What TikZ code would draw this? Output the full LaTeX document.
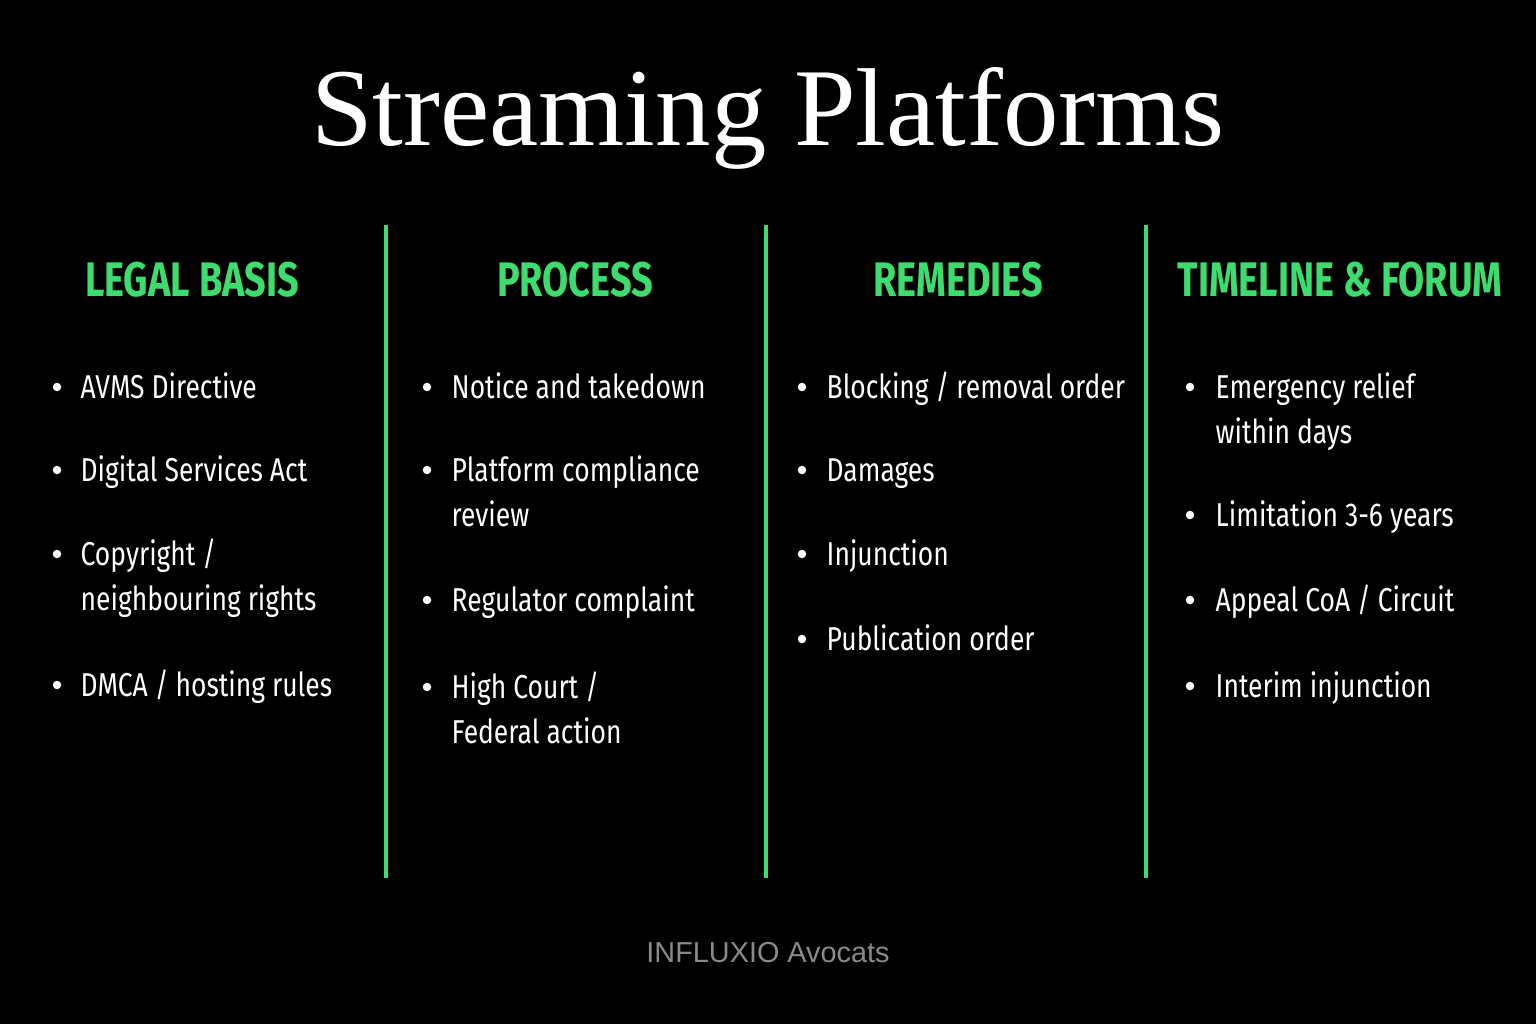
\documentclass[tikz,border=0pt]{standalone}
\usepackage{fontspec}
\setmainfont{Liberation Serif}
\newfontfamily\bodyfont{Fira Sans}[FakeStretch=0.80]
\newfontfamily\headfont{Fira Sans}[FakeStretch=0.78]
\newfontfamily\footfont{Liberation Sans}
\usetikzlibrary{positioning}
\definecolor{accent}{HTML}{3DDC6E}
\definecolor{footgray}{HTML}{8A8A8A}
\tikzset{%
  heading/.style = {text=accent, font=\headfont\bfseries\fontsize{13.8}{16}\selectfont},%
  item/.style    = {anchor=base west, text=white, inner sep=0pt,%
                    font=\bodyfont\fontsize{9.4}{12}\selectfont},%
  dot/.style     = {circle, fill=white, inner sep=0pt, minimum size=0.085cm},%
  divider/.style = {draw=accent, line width=0.9pt}%
}
\begin{document}
\begin{tikzpicture}[x=0.01cm,y=-0.01cm]
	\fill[black] (0,0) rectangle (1536,1024);
	\node (title) at (768,118) [text=white, font=\fontsize{31.5}{36}\selectfont] {Streaming Platforms};
	% column headings
	\node[heading] (legal)    at (192,280)  {LEGAL BASIS};
	\node[heading] (process)  at (575,280)  {PROCESS};
	\node[heading] (remedies) at (958,280)  {REMEDIES};
	\node[heading] (timeline) at (1340,280) {TIMELINE \& FORUM};
	% dividers
	\foreach \x/\n in {386/a,766/b,1146/c}{%
		\coordinate (top\n) at (\x,225);
		\coordinate (bot\n) at (\x,878);
		\draw[divider] (top\n) -- (bot\n);
	}
	% bullet items (second line optional)
	\foreach \dx/\tx/\y/\txt/\txtb/\n in {%
		57/80/387/{AVMS Directive}/{}/l1,
		57/80/470/{Digital Services Act}/{}/l2,
		57/80/554/{Copyright /}/{neighbouring rights}/l3,
		57/80/685/{DMCA / hosting rules}/{}/l4,
		427/451/387/{Notice and takedown}/{}/p1,
		427/451/470/{Platform compliance}/{review}/p2,
		427/451/600/{Regulator complaint}/{}/p3,
		427/451/687/{High Court /}/{Federal action}/p4,
		802/826/387/{Blocking / removal order}/{}/r1,
		802/826/470/{Damages}/{}/r2,
		802/826/554/{Injunction}/{}/r3,
		802/826/639/{Publication order}/{}/r4,
		1190/1215/387/{Emergency relief}/{within days}/t1,
		1190/1215/515/{Limitation 3-6 years}/{}/t2,
		1190/1215/600/{Appeal CoA / Circuit}/{}/t3,
		1190/1215/686/{Interim injunction}/{}/t4}{%
		\node[dot] (dot\n) at (\dx,\y) {};
		\node[item] (txt\n) at (\tx,\y+11) {\txt};
		\node[item] (txtb\n) at (\tx,\y+56) {\txtb};
	}
	\node (footer) at (768,953) [text=footgray, font=\footfont\fontsize{8.2}{10}\selectfont] {INFLUXIO Avocats};
\end{tikzpicture}
\end{document}
